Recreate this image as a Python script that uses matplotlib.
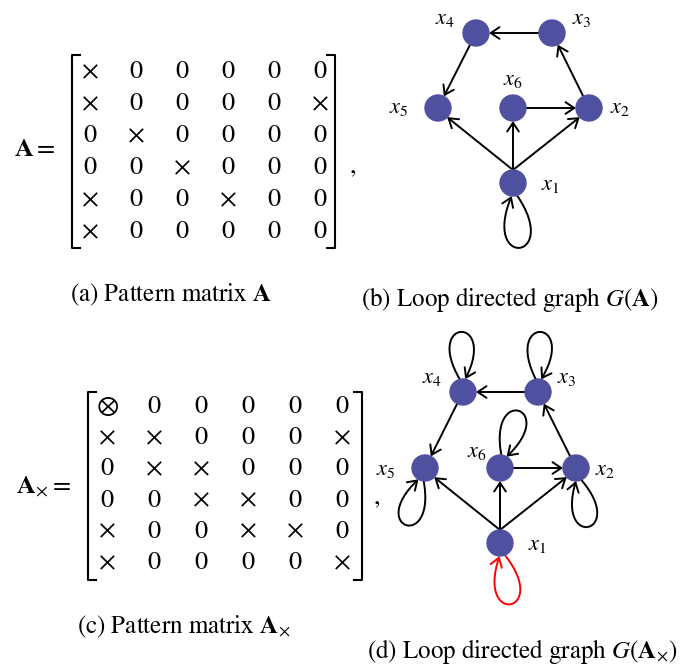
import numpy as np
import matplotlib.pyplot as plt
from matplotlib.patches import Circle, FancyArrowPatch
from matplotlib.path import Path

plt.rcParams['mathtext.fontset'] = 'stix'
plt.rcParams['font.family'] = ['STIXGeneral', 'DejaVu Serif']

# sparsity patterns: 'x' = nonzero, '0' = zero, 'o' = circled nonzero
A = ["x00000",
     "x0000x",
     "0x0000",
     "00x000",
     "x00x00",
     "x00000"]
A_x = ["o00000",
       "xx000x",
       "0xx000",
       "00xx00",
       "x00xx0",
       "x0000x"]

node_labels = [r"$x_1$", r"$x_2$", r"$x_3$", r"$x_4$", r"$x_5$", r"$x_6$"]
captions = [r"(a) Pattern matrix $\mathbf{A}$",
            r"(b) Loop directed graph $G(\mathbf{A})$",
            r"(c) Pattern matrix $\mathbf{A}_{\times}$",
            r"(d) Loop directed graph $G(\mathbf{A}_{\times})$"]
names = [r"$\mathbf{A} =$", r"$\mathbf{A}_{\times} =$"]

# layout (pixel units, y down)
W, H = 683, 665
node_col = "#5050A0"
R = 13

mat_layout = [
    dict(x0=90, dx=46, y0=72, dy=32, box=(72, 335, 55, 248), name=(35, 150), comma=(353, 167)),
    dict(x0=107, dx=47, y0=407, dy=31.2, box=(88, 362, 392, 580), name=(44, 487), comma=(377, 498)),
]
graph_layout = [
    dict(pos={0: (513, 183), 1: (589, 108), 2: (552, 33), 3: (476, 33), 4: (438, 108), 5: (513, 108)},
         lab={0: (550, 185), 1: (620, 108), 2: (582, 19), 3: (445, 19), 4: (399, 108), 5: (513, 80)},
         loops={0: (84, 65)}),
    dict(pos={0: (500, 543), 1: (576, 468), 2: (538, 392), 3: (463, 392), 4: (425, 468), 5: (500, 468)},
         lab={0: (537, 545), 1: (605, 470), 2: (567, 378), 3: (432, 378), 4: (386, 470), 5: (477, 452)},
         loops={0: (80, 62), 1: (78, 60), 2: (-88, 60), 3: (-92, 60), 4: (108, 60), 5: (-72, 60)}),
]
cap_pos = [(171, 295), (510, 300), (184, 627), (522, 652)]

fig = plt.figure(figsize=(W / 100, H / 100), dpi=100)
ax = fig.add_axes([0, 0, 1, 1])
ax.set_xlim(0, W)
ax.set_ylim(H, 0)
ax.axis("off")

sym = {"x": r"$\times$", "0": "0", "o": r"$\otimes$"}


def draw_matrix(M, L, name):
    for i, row in enumerate(M):
        for j, c in enumerate(row):
            ax.text(L["x0"] + j * L["dx"], L["y0"] + i * L["dy"], sym[c],
                    fontsize=19, ha="center", va="center")
    l, r, t, b = L["box"]
    s = 8
    ax.plot([l + s, l, l, l + s], [t, t, b, b], color="k", lw=1.5)
    ax.plot([r - s, r, r, r - s], [t, t, b, b], color="k", lw=1.5)
    ax.text(*L["name"], name, fontsize=19, ha="center", va="center")
    ax.text(*L["comma"], ",", fontsize=19, ha="center", va="center")


def arrow(path, color="k"):
    ax.add_patch(FancyArrowPatch(path=path, arrowstyle="->,head_length=0.45,head_width=0.3",
                                 mutation_scale=14, color=color, lw=1.4,
                                 shrinkA=0, shrinkB=0, zorder=1))


def draw_graph(M, L):
    pos = {k: np.array(v, float) for k, v in L["pos"].items()}
    for i, row in enumerate(M):
        for j, c in enumerate(row):
            if c == "0":
                continue
            if i == j:
                ang, dist = L["loops"][i]
                a = np.radians(ang)
                d, e = np.radians(12), np.radians(26)
                Ln = (8 * dist - 2 * R * np.cos(d)) / (6 * np.cos(e))
                cc = pos[i]
                pts = [cc + R * np.array([np.cos(a - d), np.sin(a - d)]),
                       cc + Ln * np.array([np.cos(a - e), np.sin(a - e)]),
                       cc + Ln * np.array([np.cos(a + e), np.sin(a + e)]),
                       cc + R * np.array([np.cos(a + d), np.sin(a + d)])]
                col = "red" if c == "o" else "k"
                arrow(Path(pts, [Path.MOVETO, Path.CURVE4, Path.CURVE4, Path.CURVE4]), col)
            else:
                p, q = pos[j], pos[i]
                u = (q - p) / np.linalg.norm(q - p)
                start = p + np.array([0, -R]) if j == 0 else p + R * u
                end = q - R * u
                arrow(Path([start, end], [Path.MOVETO, Path.LINETO]))
    for k, c in pos.items():
        ax.add_patch(Circle(c, R, color=node_col, zorder=2))
        ax.text(*L["lab"][k], node_labels[k], fontsize=16, ha="center", va="center")


draw_matrix(A, mat_layout[0], names[0])
draw_matrix(A_x, mat_layout[1], names[1])
draw_graph(A, graph_layout[0])
draw_graph(A_x, graph_layout[1])
for (x, y), t in zip(cap_pos, captions):
    ax.text(x, y, t, fontsize=18, ha="center", va="center")

fig.savefig("out.png", dpi=100)
